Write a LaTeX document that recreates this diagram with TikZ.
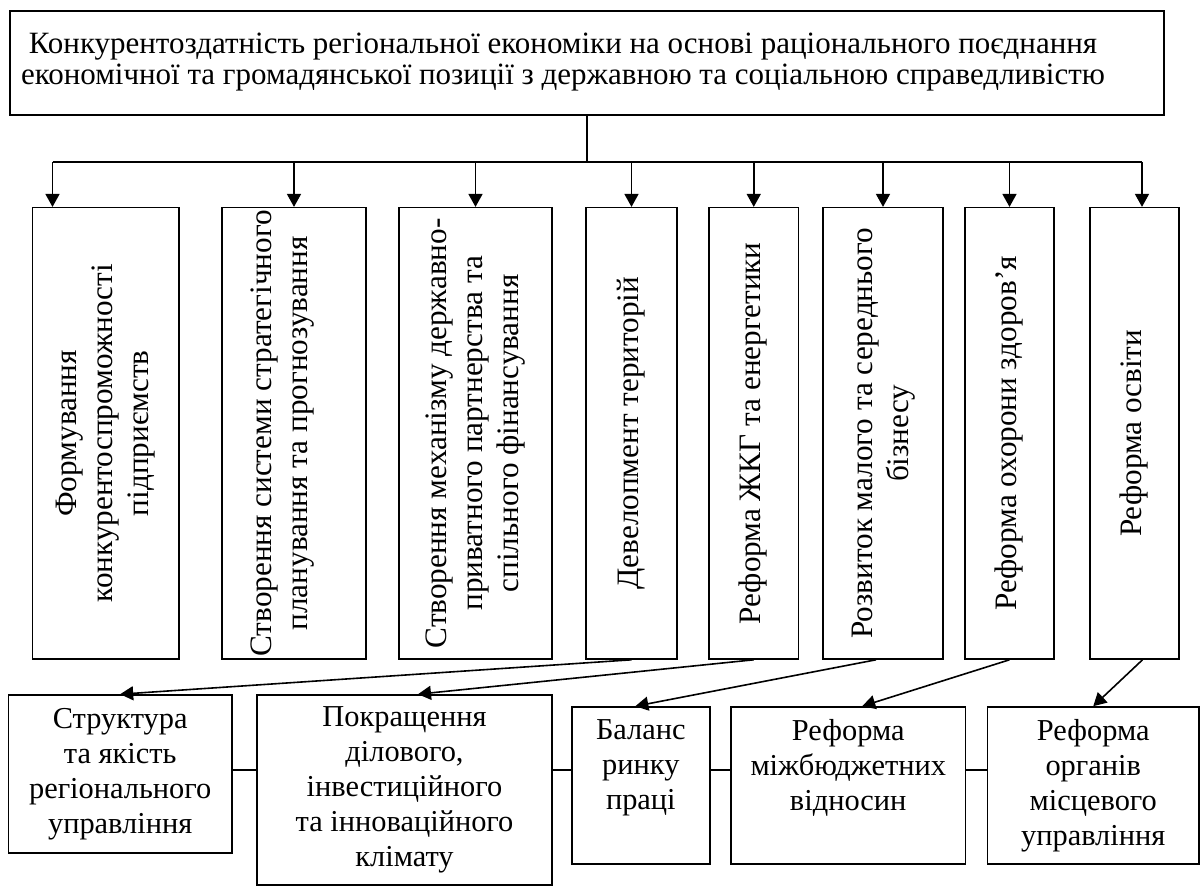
\documentclass[tikz,border=0pt]{standalone}
\usepackage{fontspec}
\setmainfont{Liberation Serif}
\usepackage{graphicx}
\usepackage{tikz}
\usetikzlibrary{arrows.meta}

\newcommand{\vtext}[2][0pt]{\rotatebox{90}{\begin{tabular}{@{}c@{}}#2\\[#1]\end{tabular}}}

\begin{document}
\begin{tikzpicture}[
            x = 0.5pt, y = -0.5pt,
            box/.style = {draw, line width = 0.8pt, inner sep = 0pt, align = center,
                          font = \fontsize{15.2}{17.5}\selectfont},
            goal/.style = {minimum width = 577pt, minimum height = 52pt,
                           font = \fontsize{15.5}{15.6}\selectfont},
            column/.style = {minimum height = 225.65pt, font = \fontsize{15.6}{18}\selectfont},
            result/.style = {minimum height = 78.5pt},
            link/.style = {line width = 0.8pt},
            edge/.style = {line width = 0.8pt, -{Triangle[length = 6.5pt, width = 7pt]}}
        ]
        \useasboundingbox (0,0) rectangle (1201,887);

        \node[box, goal] (goal) at (587,63) {\begin{tabular}{@{}c@{\hspace{24pt}}}Конкурентоздатність регіональної економіки на основі раціонального поєднання\\економічної та громадянської позиції з державною та соціальною справедливістю\end{tabular}};

        \node[box, column, minimum width = 73.25pt] (form) at (105.75,433.35) {\vtext{Формування\\конкурентоспроможності\\підприємств}};
        \node[box, column, minimum width = 72pt] (plan) at (294,433.35) {\vtext[12pt]{Створення системи стратегічного\\планування та прогнозування}};
        \node[box, column, minimum width = 76.5pt] (ppp) at (475.5,433.35) {\vtext{Створення механізму державно-\\приватного партнерства та\\спільного фінансування}};
        \node[box, column, minimum width = 45.5pt] (devel) at (631.5,433.35) {\vtext{Девелопмент територій}};
        \node[box, column, minimum width = 44.75pt] (housing) at (753.75,433.35) {\vtext{Реформа ЖКГ та енергетики}};
        \node[box, column, minimum width = 60pt] (business) at (883,433.35) {\vtext{Розвиток малого та середнього\\бізнесу}};
        \node[box, column, minimum width = 44.5pt] (health) at (1009.5,433.35) {\vtext{Реформа охорони здоров’я}};
        \node[box, column, minimum width = 44.5pt] (educ) at (1134.5,433.35) {\vtext{Реформа освіти}};

        \node[box, minimum width = 111.8pt, minimum height = 79pt] (struct) at (120.2,774) {Структура\\та якість\\регіонального\\управління};
        \node[box, minimum width = 147.5pt, minimum height = 95pt] (climate) at (404.5,790) {Покращення\\ділового,\\інвестиційного\\та інноваційного\\клімату};
        \node[box, result, minimum width = 69.15pt, text depth = 20.7pt] (labour) at (640.85,785.5) {Баланс\\ринку\\праці};
        \node[box, result, minimum width = 117.25pt, text depth = 20.7pt] (budget) at (848.25,785.5) {Реформа\\міжбюджетних\\відносин};
        \node[box, result, minimum width = 105.75pt] (selfgov) at (1093.25,785.5) {Реформа\\органів\\місцевого\\управління};

        \coordinate (busL) at (52.5,162);
        \coordinate (busR) at (1142,162);
        \coordinate (row) at (0,770);

        \draw[link] (goal.south) -- (goal.south |- busL);
        \draw[link] (busL) -- (busR);
        \draw[edge] (busL) -- (busL |- form.north);
        \draw[edge] (plan.north |- busL) -- (plan.north);
        \draw[edge] (ppp.north |- busL) -- (ppp.north);
        \draw[edge] (devel.north |- busL) -- (devel.north);
        \draw[edge] (housing.north |- busL) -- (housing.north);
        \draw[edge] (business.north |- busL) -- (business.north);
        \draw[edge] (health.north |- busL) -- (health.north);
        \draw[edge] (busR) -- (busR |- educ.north);

        \draw[edge] (devel.south) -- (struct.north);
        \draw[edge] (housing.south) -- ([xshift = 6.75pt]climate.north);
        \draw[edge] ([xshift = -3.5pt]business.south) -- ([xshift = -2.75pt]labour.north);
        \draw[edge] (health.south) -- ([xshift = 7pt]budget.north);
        \draw[edge] ([xshift = 4pt]educ.south) -- (selfgov.north);

        \draw[link] (struct.east |- row) -- (climate.west |- row);
        \draw[link] (climate.east |- row) -- (labour.west |- row);
        \draw[link] (labour.east |- row) -- (budget.west |- row);
        \draw[link] (budget.east |- row) -- (selfgov.west |- row);
    \end{tikzpicture}
\end{document}
